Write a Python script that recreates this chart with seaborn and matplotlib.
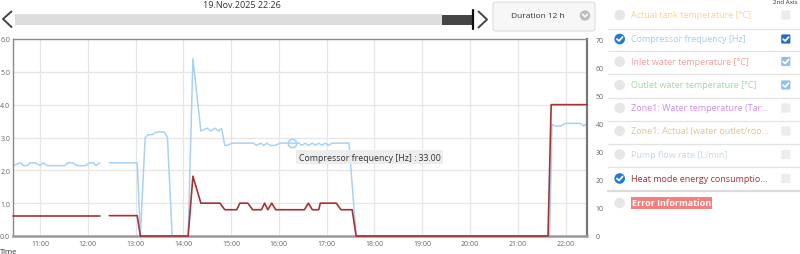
import numpy as np
import pandas as pd
import matplotlib
matplotlib.use("Agg")
import matplotlib.pyplot as plt
import seaborn as sns
from matplotlib.patches import Rectangle, FancyBboxPatch, Circle

sns.set_theme(style="white")
plt.rcParams['font.family'] = ['Open Sans', 'DejaVu Sans']

# ---------------- data ----------------
freq_times = ["10:26", "10:35", "10:39", "10:44", "10:47", "10:54", "11:00", "11:04", "11:09",
              "11:31", "11:35", "11:41", "11:46", "11:57", "12:02", "12:07", "12:10", "12:15",
              "12:21",
              "12:27", "13:02", "13:06", "13:12", "13:16", "13:21", "13:27", "13:36", "13:40",
              "13:46", "14:06", "14:12", "14:22", "14:30", "14:34", "14:40", "14:44", "14:48",
              "14:52", "14:55", "15:01", "15:28", "15:32", "15:37", "15:41", "15:45", "15:49",
              "15:55", "16:02", "16:25", "16:29", "16:33", "16:37", "16:42", "16:46", "16:50",
              "16:54", "16:58", "17:02", "17:07", "17:12", "17:28", "17:37", "21:40", "21:43",
              "21:47", "21:54", "22:00", "22:19", "22:23", "22:27"]
freq_values = [25, 26, 25, 25, 26, 26, 25, 26, 25,
               25, 26, 26, 25, 25, 26, 26, 25, 26,
               None,
               26, 26, 0, 35, 36, 36, 37, 37, 35,
               0, 0, 63, 37.3, 38.3, 37.3, 38.3, 37.3, 38.2,
               32.2, 32.2, 33, 33, 32.2, 33, 32.2, 33, 32.2,
               32.2, 33, 33, 32.2, 33, 32.2, 33, 32.2, 33,
               32.2, 33, 32.2, 33, 33, 33, 0, 0, 39.6,
               39.1, 39.1, 40, 40, 39.1, 40]

energy_times = ["10:26", "12:15", "12:21", "12:27", "13:02", "13:06", "14:06", "14:12", "14:22",
                "14:46", "14:52", "15:07", "15:11", "15:21", "15:27", "15:38", "15:42", "15:46",
                "15:51", "15:56", "16:32", "16:37", "16:42", "16:50", "16:52", "17:12", "17:18",
                "17:32", "17:37", "21:38", "21:42", "22:27"]
energy_values = [0.62, 0.62, None, 0.62, 0.62, 0, 0, 1.82, 1.0,
                 1.0, 0.8, 0.8, 1.0, 1.0, 0.8, 0.8, 1.0, 0.8,
                 1.0, 0.8, 0.8, 1.0, 0.8, 0.8, 1.0, 1.0, 0.8,
                 0.8, 0, 0, 4.0, 4.0]

tooltip_time = "16:16"
tooltip_value = 33.0
tooltip_label = "Compressor frequency [Hz]"

hour_ticks = list(range(11, 23))
hour_labels = [f"{h}:00" for h in hour_ticks]
left_ticks = [0, 1, 2, 3, 4, 5, 6]
right_ticks = [0, 10, 20, 30, 40, 50, 60, 70]
x_start, x_end = "10:26", "22:27"

legend_labels = ["Actual tank temperature [°C]", "Compressor frequency [Hz]",
                 "Inlet water temperature [°C]", "Outlet water temperature [°C]",
                 "Zone1: Water temperature (Tar...", "Zone1: Actual (water outlet/roo...",
                 "Pump flow rate [L/min]", "Heat mode energy consumptio...",
                 "Error Information"]
legend_colors = ["#f8d38c", "#9fcdf3", "#ef9f9f", "#a3d5a5", "#c98fe6", "#e0c48c",
                 "#c6d8ea", "#a83232", "#f47f7f"]
legend_shown = [False, True, False, False, False, False, False, True, False]
legend_second = ["off", "dark", "light", "light", "off", "off", "off", "off", None]

date_text = "19.Nov.2025 22:26"
duration_text = "Duration 12 h"

BLUE = "#a6d2f6"
RED = "#a83232"
TXT = "#666666"


def to_h(s):
    h, m = s.split(":")
    return int(h) + int(m) / 60.0


def frame(times, values):
    d = pd.DataFrame({"t": [to_h(x) for x in times],
                      "v": pd.to_numeric(pd.Series(values, dtype="float"))})
    d["seg"] = d["v"].isna().cumsum()
    return d.dropna()


freq_df = frame(freq_times, freq_values)
energy_df = frame(energy_times, energy_values)

# ---------------- figure ----------------
fig = plt.figure(figsize=(8.0, 2.55), dpi=100)
W, H = 800, 255
ax_b = fig.add_axes([13 / W, 18 / H, 574 / W, 197 / H])
ax_r = ax_b.twinx()

# blue on base axes (right scale)
sns.lineplot(data=freq_df, x="t", y="v", units="seg", estimator=None, sort=False,
             ax=ax_b, color=BLUE, linewidth=1.1, legend=False)
# red on twin axes (left scale)
sns.lineplot(data=energy_df, x="t", y="v", units="seg", estimator=None, sort=False,
             ax=ax_r, color=RED, linewidth=1.2, legend=False, zorder=3)
for ln in ax_r.get_lines():
    ln.set_clip_on(False)

ax_b.set_xlim(to_h(x_start), to_h(x_end))
ax_b.set_ylim(0, 70)
ax_r.set_ylim(0, 6)

# ticks
ax_b.set_xticks([float(h) for h in hour_ticks])
ax_b.set_xticklabels(hour_labels)
ax_b.yaxis.set_ticks_position("right")
ax_b.set_yticks(right_ticks)
ax_b.set_yticklabels([str(v) for v in right_ticks])
ax_r.yaxis.set_ticks_position("left")
ax_r.set_yticks(left_ticks)
ax_r.set_yticklabels([f"{v:.1f}" for v in left_ticks])
ax_b.tick_params(axis="x", length=0, pad=3, labelsize=5, labelcolor=TXT)
ax_b.tick_params(axis="y", length=0, pad=6, labelsize=5, labelcolor=TXT)
ax_r.tick_params(axis="y", length=0, pad=2, labelsize=5, labelcolor=TXT)

# grid: vertical on hour ticks, horizontal aligned with left scale
ax_b.set_yticks([v * 70 / 6 for v in left_ticks], minor=True)
ax_b.tick_params(axis="y", which="minor", length=0)
ax_b.grid(True, which="major", axis="x", color="#e6e6e6", linewidth=0.9)
ax_b.grid(True, which="minor", axis="y", color="#e6e6e6", linewidth=0.9)
ax_b.grid(False, which="major", axis="y")
ax_b.set_axisbelow(True)

for a in (ax_b, ax_r):
    a.set_xlabel("")
    a.set_ylabel("")
for s in ax_b.spines.values():
    s.set_visible(False)
ax_r.spines["left"].set_color("#8a8a8a")
ax_r.spines["left"].set_linewidth(1.0)
ax_r.spines["top"].set_color("#8a8a8a")
ax_r.spines["top"].set_linewidth(1.0)
ax_r.spines["right"].set_color("#777777")
ax_r.spines["right"].set_linewidth(1.6)
ax_r.spines["bottom"].set_color("#999999")
ax_r.spines["bottom"].set_linewidth(1.8)
ax_r.set_zorder(ax_b.get_zorder() + 1)

# tooltip marker + label
tt = to_h(tooltip_time)
ax_b.plot([tt], [tooltip_value], marker="o", markersize=6, markerfacecolor="none",
          markeredgecolor=BLUE, markeredgewidth=1.2, zorder=4)
ax_b.annotate(f"{tooltip_label} : {tooltip_value:.2f}", xy=(tt, tooltip_value),
              xytext=(7, -14), textcoords="offset pixels", ha="left", va="center",
              fontsize=6.3, color="#333333", zorder=6,
              bbox=dict(boxstyle="square,pad=0.3", fc="#ececec", ec="none", alpha=0.95))

# ---------------- overlay (controls / legend panel) ----------------
ov = fig.add_axes([0, 0, 1, 1], zorder=10)
ov.set_xlim(0, W)
ov.set_ylim(H, 0)
ov.axis("off")
ov.patch.set_visible(False)

# date
ov.text(242, 5.5, date_text, ha="center", va="center", fontsize=6.5, color="#333333")
# chevrons
ov.plot([12, 3, 12], [12, 20, 28.5], color="#444444", lw=1.4, solid_capstyle="butt")
ov.plot([478, 487, 478], [12, 20.5, 29], color="#444444", lw=1.4, solid_capstyle="butt")
# slider
ov.add_patch(Rectangle((15, 15), 427, 11, fc="#dddddd", ec="none"))
ov.add_patch(Rectangle((442, 15.5), 30, 10, fc="#454545", ec="none"))
ov.plot([472.7, 472.7], [11, 30], color="#111111", lw=1.6)
# duration dropdown
ov.add_patch(FancyBboxPatch((493, 3), 102, 29, boxstyle="round,pad=0,rounding_size=3",
                            fc="#f7f7f7", ec="#dcdcdc", lw=0.8))
ov.text(538, 17, duration_text, ha="center", va="center", fontsize=6, color="#333333")
ov.add_patch(Circle((585, 16.5), 5.2, fc="#bdbdbd", ec="none"))
ov.plot([582.5, 585, 587.5], [15.3, 17.8, 15.3], color="white", lw=1.1)

# legend panel
ov.text(785, 3, "2nd Axis", ha="center", va="center", fontsize=4.5, color="#333333")
row_y = [16, 40, 62.5, 86, 109, 132, 155.5, 179.5, 204]
sep_y = [29.5, 52, 75, 98.5, 121.5, 145, 168, 191.5]
for i, y in enumerate(sep_y):
    ov.plot([608, 800], [y, y], color="#e3e3e3" if i < 7 else "#dadada",
            lw=0.9 if i < 7 else 1.6)

for lab, col, shown, sec, y in zip(legend_labels, legend_colors, legend_shown,
                                   legend_second, row_y):
    if shown:
        ov.add_patch(Circle((619.7, y), 5.3, fc="#1f7ad4", ec="none"))
        ov.plot([617.0, 619.0, 622.6], [y + 0.1, y + 2.0, y - 2.0], color="white",
                lw=1.3, solid_capstyle="round")
    else:
        ov.add_patch(Circle((619.7, y), 5.3, fc="#e6e6e6", ec="none"))
    if lab == "Error Information":
        ov.text(632, y, lab, ha="left", va="center", fontsize=6.5, color="white",
                fontweight="bold",
                bbox=dict(boxstyle="square,pad=0.15", fc=col, ec="none"))
    else:
        ov.text(631, y, lab, ha="left", va="center", fontsize=6.5, color=col)
    if sec is not None:
        fc = {"off": "#ececec", "dark": "#1f6cc2", "light": "#8fc0ea"}[sec]
        ov.add_patch(FancyBboxPatch((781.2, y - 4.6), 9.2, 9.2,
                                    boxstyle="round,pad=0,rounding_size=1.2",
                                    fc=fc, ec="none"))
        if sec != "off":
            ov.plot([783.2, 785.2, 788.6], [y + 0.2, y + 2.0, y - 1.9], color="white",
                    lw=1.3, solid_capstyle="round")

# axis title at bottom
ov.text(0, 249.5, "Time", ha="left", va="top", fontsize=5.5, color="#333333")

fig.savefig("out.png", dpi=100)
